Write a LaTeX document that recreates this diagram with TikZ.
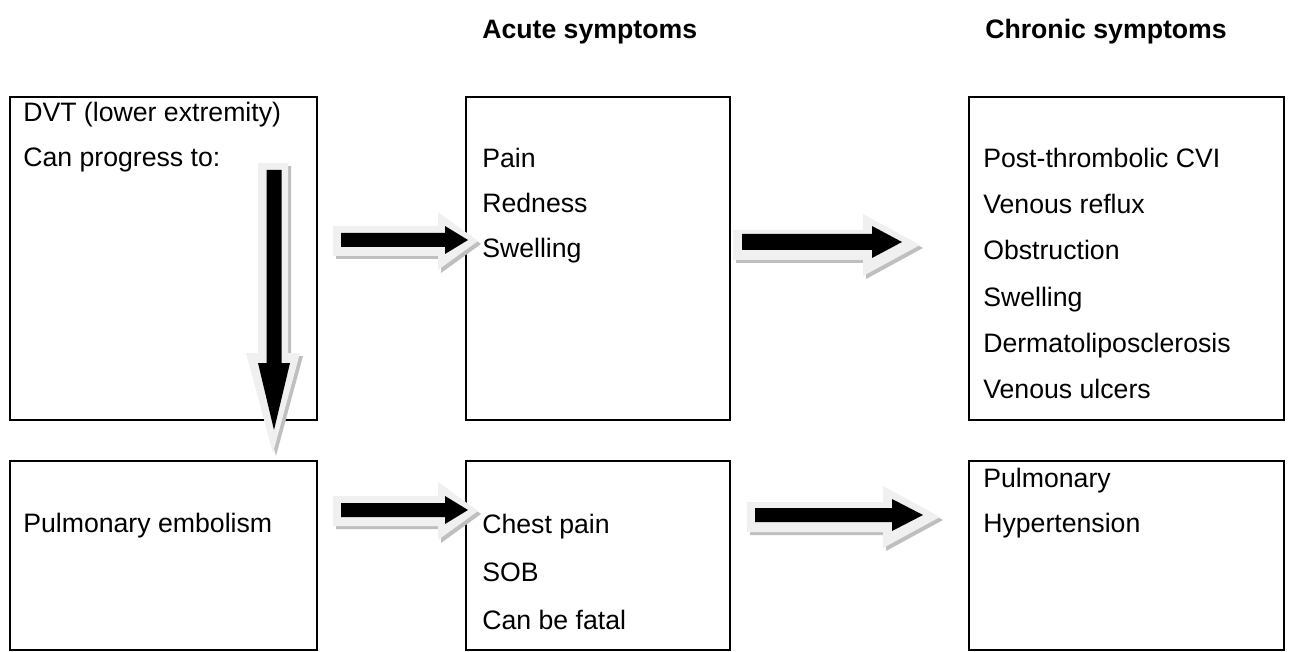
\documentclass[tikz,border=0pt]{standalone}
\usepackage{fontspec}
\setmainfont{Liberation Sans}
\definecolor{arrowpale}{HTML}{F0F0F0}
\definecolor{arrowshadow}{HTML}{BFBFBF}
\tikzset{
  boxline/.style={draw=black, line width=1.5pt},
  txt/.style={anchor=base west, inner sep=0pt, font=\fontsize{20}{24}\selectfont},
  head/.style={anchor=base west, inner sep=0pt, font=\fontsize{20}{24}\selectfont\bfseries},
  pale/.style={fill=arrowpale, draw=none},
  shade/.style={fill=arrowshadow, draw=none},
  core/.style={fill=black, draw=none}
}
% horizontal block arrow: xs, xe, yc, shaft half width, head half width, head length, style
\newcommand\harr[7]{\fill[#7] (#1,#3-#4) -- (#2-#6,#3-#4) -- (#2-#6,#3-#5) -- (#2,#3) -- (#2-#6,#3+#5) -- (#2-#6,#3+#4) -- (#1,#3+#4) -- cycle;}
% vertical block arrow: xc, ys, ye, shaft half width, head half width, head length, style
\newcommand\varr[7]{\fill[#7] (#1-#4,#2) -- (#1-#4,#3-#6) -- (#1-#5,#3-#6) -- (#1,#3) -- (#1+#5,#3-#6) -- (#1+#4,#3-#6) -- (#1+#4,#2) -- cycle;}
\begin{document}
\begin{tikzpicture}[x=0.75pt, y=-0.75pt]
\useasboundingbox[fill=white] (0,0) rectangle (1292,652);

% headings
\node[head] (hacute) at (482,39) {Acute symptoms};
\node[head] (hchron) at (985,39) {Chronic symptoms};

% boxes
\draw[boxline] (10,97) rectangle (317,420);
\draw[boxline] (466,97) rectangle (730,420);
\draw[boxline] (969,97) rectangle (1284,420);
\draw[boxline] (10,461) rectangle (317,650);
\draw[boxline] (466,461) rectangle (730,650);
\draw[boxline] (969,461) rectangle (1284,650);

% arrows (shadow, pale outline, black core)
\begin{scope}[shift={(3,3)}]\harr{333}{478}{241}{15}{29}{40}{shade}\end{scope}
\harr{333}{478}{241}{15}{29}{40}{pale}
\harr{341}{468}{240}{7}{14}{23}{core}

\begin{scope}[shift={(3,3)}]\harr{733}{920}{245}{15}{31}{57}{shade}\end{scope}
\harr{733}{920}{245}{15}{31}{57}{pale}
\harr{742}{902}{242}{8}{16}{30}{core}

\begin{scope}[shift={(3,3)}]\harr{333}{478}{511}{15}{29}{40}{shade}\end{scope}
\harr{333}{478}{511}{15}{29}{40}{pale}
\harr{341}{468}{510}{7}{14}{23}{core}

\begin{scope}[shift={(3,3)}]\harr{747}{940}{517}{15}{31}{57}{shade}\end{scope}
\harr{747}{940}{517}{15}{31}{57}{pale}
\harr{755}{923}{515}{7}{16}{31}{core}

\begin{scope}[shift={(3,3)}]\varr{273}{163}{453}{15}{27}{100}{shade}\end{scope}
\varr{273}{163}{453}{15}{27}{100}{pale}
\varr{274}{170}{430}{7.5}{16}{67}{core}

% box 1
\node[txt] (dvt) at (23,122) {DVT (lower extremity)};
\node[txt] (prog) at (23,167) {Can progress to:};
% box 2
\node[txt] (pain) at (482,168) {Pain};
\node[txt] (red) at (482,213) {Redness};
\node[txt] (swa) at (482,258) {Swelling};
% box 3
\node[txt] (cvi) at (983,168) {Post-thrombolic CVI};
\node[txt] (refl) at (983,214) {Venous reflux};
\node[txt] (obst) at (983,260) {Obstruction};
\node[txt] (swc) at (983,306) {Swelling};
\node[txt] (derm) at (983,352) {Dermatoliposclerosis};
\node[txt] (ulc) at (983,398) {Venous ulcers};
% box 4
\node[txt] (pe) at (23,532) {Pulmonary embolism};
% box 5
\node[txt] (chest) at (482,533) {Chest pain};
\node[txt] (sob) at (482,581) {SOB};
\node[txt] (fatal) at (482,629) {Can be fatal};
% box 6
\node[txt] (pulm) at (983,487) {Pulmonary};
\node[txt] (hyp) at (983,532) {Hypertension};
\end{tikzpicture}
\end{document}
